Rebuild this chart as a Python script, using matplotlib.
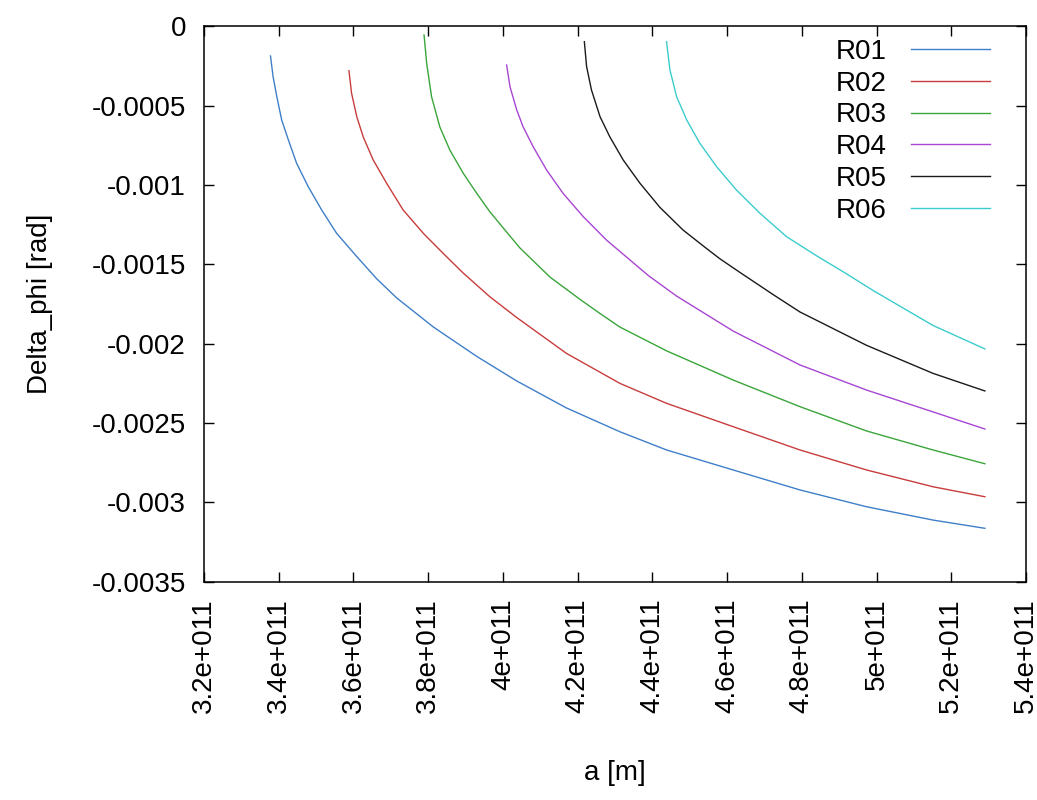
import numpy as np
import matplotlib
matplotlib.use('Agg')
import matplotlib.pyplot as plt

# values (a in 1e11 m, phi in 1e-3 rad)
a_r01 = [3.378, 3.385, 3.395, 3.408, 3.426, 3.448, 3.479, 3.515, 3.555, 3.609,
         3.662, 3.716, 3.814, 3.930, 4.037, 4.170, 4.313, 4.438, 4.616, 4.795,
         4.973, 5.151, 5.290]
phi_r01 = [-0.186, -0.317, -0.443, -0.590, -0.716, -0.863, -1.010, -1.157, -1.304, -1.451,
           -1.590, -1.712, -1.895, -2.080, -2.235, -2.405, -2.555, -2.670, -2.796, -2.922,
           -3.028, -3.112, -3.164]

a_r02 = [3.588, 3.595, 3.609, 3.626, 3.653, 3.689, 3.733, 3.787, 3.840, 3.894,
         3.965, 4.037, 4.170, 4.313, 4.438, 4.616, 4.795, 4.973, 5.151, 5.290]
phi_r02 = [-0.279, -0.421, -0.569, -0.695, -0.842, -0.989, -1.157, -1.304, -1.430, -1.555,
           -1.704, -1.835, -2.061, -2.250, -2.376, -2.523, -2.670, -2.796, -2.902, -2.965]

a_r03 = [3.789, 3.796, 3.809, 3.831, 3.858, 3.894, 3.930, 3.965, 3.992, 4.045,
         4.126, 4.206, 4.259, 4.313, 4.438, 4.616, 4.795, 4.973, 5.151, 5.290]
phi_r03 = [-0.054, -0.232, -0.442, -0.632, -0.779, -0.926, -1.052, -1.168, -1.245, -1.395,
           -1.580, -1.720, -1.808, -1.895, -2.045, -2.229, -2.397, -2.550, -2.670, -2.757]

a_r04 = [4.010, 4.019, 4.037, 4.054, 4.081, 4.117, 4.161, 4.215, 4.277, 4.340,
         4.389, 4.465, 4.616, 4.795, 4.973, 5.151, 5.290]
phi_r04 = [-0.243, -0.380, -0.526, -0.632, -0.758, -0.905, -1.052, -1.199, -1.346, -1.472,
           -1.570, -1.700, -1.920, -2.134, -2.292, -2.430, -2.538]

a_r05 = [4.218, 4.224, 4.237, 4.260, 4.286, 4.322, 4.367, 4.420, 4.482, 4.545,
         4.581, 4.634, 4.723, 4.795, 4.973, 5.151, 5.290]
phi_r05 = [-0.096, -0.253, -0.400, -0.569, -0.695, -0.842, -0.989, -1.140, -1.283, -1.400,
           -1.465, -1.550, -1.690, -1.800, -2.010, -2.187, -2.298]

a_r06 = [4.438, 4.447, 4.465, 4.492, 4.527, 4.572, 4.625, 4.688, 4.759, 4.839,
         4.920, 4.991, 5.151, 5.290]
phi_r06 = [-0.096, -0.274, -0.443, -0.590, -0.736, -0.884, -1.031, -1.178, -1.325, -1.445,
           -1.560, -1.665, -1.885, -2.033]

series = [('R01', a_r01, phi_r01, '#3f7fc8'),
          ('R02', a_r02, phi_r02, '#c83c3c'),
          ('R03', a_r03, phi_r03, '#3aa53a'),
          ('R04', a_r04, phi_r04, '#a846d2'),
          ('R05', a_r05, phi_r05, '#1a1a1a'),
          ('R06', a_r06, phi_r06, '#3ccccc')]

x_ticks = [3.2, 3.4, 3.6, 3.8, 4.0, 4.2, 4.4, 4.6, 4.8, 5.0, 5.2, 5.4]
x_tick_labels = ['3.2e+011', '3.4e+011', '3.6e+011', '3.8e+011', '4e+011', '4.2e+011',
                 '4.4e+011', '4.6e+011', '4.8e+011', '5e+011', '5.2e+011', '5.4e+011']
y_ticks = [0, -0.0005, -0.001, -0.0015, -0.002, -0.0025, -0.003, -0.0035]
y_tick_labels = ['0', '-0.0005', '-0.001', '-0.0015', '-0.002', '-0.0025', '-0.003', '-0.0035']

plt.rcParams['font.family'] = ['Liberation Sans', 'DejaVu Sans']
fs = 20

fig = plt.figure(figsize=(10.37, 8), dpi=100)
ax = fig.add_axes([0.1967, 0.273, 0.7927, 0.6939])

for name, a, phi, col in series:
    ax.plot(np.array(a) * 1e11, np.array(phi) * 1e-3, color=col, lw=1.0, label=name)

ax.set_xlim(3.2e11, 5.4e11)
ax.set_ylim(-0.0035, 0)
ax.set_xticks(np.array(x_ticks) * 1e11)
ax.set_xticklabels(x_tick_labels, rotation=90, fontsize=fs)
ax.set_yticks(y_ticks)
ax.set_yticklabels(y_tick_labels, fontsize=fs)
ax.tick_params(direction='in', length=7, width=1, top=True, right=True)
ax.tick_params(axis='x', pad=12)
ax.tick_params(axis='y', pad=13)
for sp in ax.spines.values():
    sp.set_linewidth(1.1)

ax.set_xlabel('a [m]', fontsize=fs, labelpad=34)
ax.set_ylabel('Delta_phi [rad]', fontsize=fs, labelpad=28)

ax.legend(loc='upper right', frameon=False, markerfirst=False, fontsize=fs,
          handlelength=2.85, handletextpad=0.86, labelspacing=0.21,
          borderaxespad=0.3, bbox_to_anchor=(0.98, 1.013))

fig.savefig('out.png', dpi=100)
